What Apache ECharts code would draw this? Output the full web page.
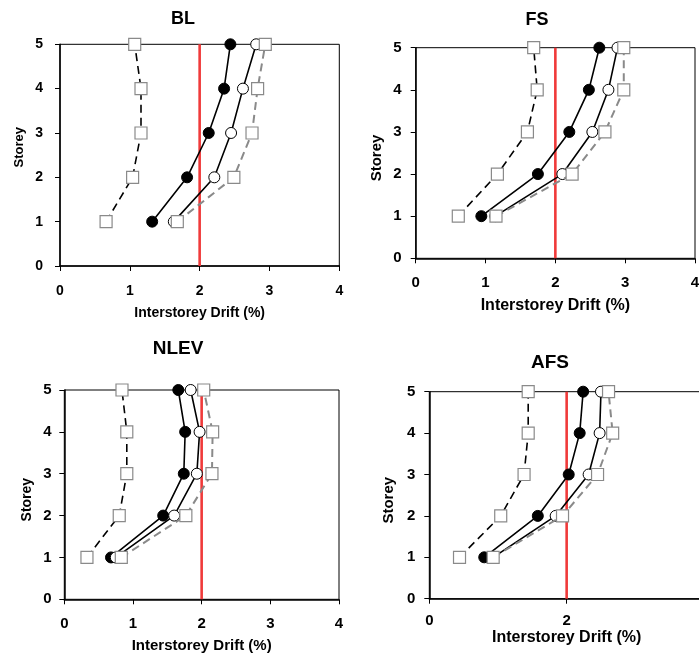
<!DOCTYPE html>
<html>
<head>
<meta charset="utf-8">
<script src="https://cdn.jsdelivr.net/npm/echarts@6/dist/echarts.min.js"></script>
<style>
html,body{margin:0;padding:0;background:#fff;}
#chart{width:699px;height:654px;}
</style>
</head>
<body>
<div id="chart"></div>
<script>
// ---- data ----
var panelTitles = ['BL', 'FS', 'NLEV', 'AFS'];
var storeys = [1, 2, 3, 4, 5];
var driftLimit = 2;
var xTickStep = [1, 1, 1, 2];
var xMax = 4;
var yMax = 5;
var xAxisName = 'Interstorey Drift (%)';
var yAxisName = 'Storey';

// dashed black line, grey squares
var blDashSq   = [0.66, 1.04, 1.16, 1.16, 1.07];
// solid black line, filled circles
var blFilled   = [1.32, 1.82, 2.13, 2.35, 2.44];
// solid black line, open circles
var blOpen     = [1.63, 2.21, 2.45, 2.62, 2.81];
// grey dashed line, grey squares
var blGreySq   = [1.68, 2.49, 2.75, 2.83, 2.94];

var fsDashSq   = [0.61, 1.17, 1.60, 1.74, 1.69];
var fsFilled   = [0.94, 1.75, 2.20, 2.48, 2.63];
var fsOpen     = [1.14, 2.10, 2.53, 2.76, 2.89];
var fsGreySq   = [1.15, 2.24, 2.71, 2.98, 2.98];

var nlevDashSq = [0.33, 0.80, 0.91, 0.91, 0.84];
var nlevFilled = [0.68, 1.44, 1.74, 1.76, 1.66];
var nlevOpen   = [0.75, 1.60, 1.93, 1.97, 1.84];
var nlevGreySq = [0.83, 1.77, 2.15, 2.16, 2.03];

var afsDashSq  = [0.44, 1.04, 1.38, 1.44, 1.44];
var afsFilled  = [0.80, 1.58, 2.03, 2.19, 2.24];
var afsOpen    = [0.93, 1.84, 2.32, 2.48, 2.50];
var afsGreySq  = [0.93, 1.94, 2.45, 2.67, 2.61];

var panelData = [
  [blDashSq, blFilled, blOpen, blGreySq],
  [fsDashSq, fsFilled, fsOpen, fsGreySq],
  [nlevDashSq, nlevFilled, nlevOpen, nlevGreySq],
  [afsDashSq, afsFilled, afsOpen, afsGreySq]
];

// ---- layout / style ----
var FONT = '"Liberation Sans", Arial, sans-serif';
var layout = [
  {grid:{left:60, top:44.3, width:279.3, height:221.7}, title:{x:183, y:10}, tfs:18,
   tick:14, xMargin:18, xName:14, xGap:40, yMargin:17, yName:13, yGap:34, yPad:[0,0,0,16]},
  {grid:{left:415.7, top:47.7, width:279.3, height:210.6}, title:{x:537, y:11}, tfs:18,
   tick:15, xMargin:17, xName:16, xGap:39, yMargin:14, yName:15, yGap:31, yPad:[0,10,0,0]},
  {grid:{left:64.3, top:390, width:274.7, height:209.3}, title:{x:178, y:339}, tfs:19,
   tick:15, xMargin:17, xName:15, xGap:39, yMargin:12.6, yName:14, yGap:30, yPad:[0,10,0,0]},
  {grid:{left:429.3, top:391.7, width:274.7, height:207}, title:{x:550, y:353}, tfs:19,
   tick:15, xMargin:15, xName:16, xGap:30, yMargin:14, yName:15, yGap:33, yPad:[0,10,0,0]}
];

var GREY = '#8a8a8a';
var seriesStyles = [
  {line:{color:'#000', width:1.6, type:[8,5]}, symbol:'rect', size:12, item:{color:'#fff', borderColor:GREY, borderWidth:1.2}},
  {line:{color:'#000', width:1.6, type:'solid'}, symbol:'circle', size:11, item:{color:'#000', borderColor:'#000', borderWidth:1}},
  {line:{color:'#000', width:1.6, type:'solid'}, symbol:'circle', size:11, item:{color:'#fff', borderColor:'#000', borderWidth:1}},
  {line:{color:GREY, width:2, type:[8,5]}, symbol:'rect', size:12, item:{color:'#fff', borderColor:GREY, borderWidth:1.2}}
];

var grids = [], xAxes = [], yAxes = [], titles = [], series = [];
layout.forEach(function (L, p) {
  grids.push(Object.assign({show:true, borderColor:'#000', borderWidth:1, backgroundColor:'transparent',
    containLabel:false, outerBoundsMode:'none'}, L.grid));
  titles.push({
    text: panelTitles[p], left: L.title.x, top: L.title.y, textAlign:'center', padding:0,
    textStyle:{fontFamily:FONT, fontWeight:'bold', fontSize:L.tfs, color:'#000'}
  });
  xAxes.push({
    gridIndex:p, type:'value', min:0, max:xMax, interval:xTickStep[p],
    name:xAxisName, nameLocation:'middle', nameGap:L.xGap,
    nameTextStyle:{fontFamily:FONT, fontWeight:'bold', fontSize:L.xName, color:'#000'},
    axisLine:{show:true, onZero:false, lineStyle:{color:'#000', width:1.5}},
    axisTick:{show:true, inside:false, length:5, lineStyle:{color:'#000', width:1}},
    axisLabel:{margin:L.xMargin, fontFamily:FONT, fontWeight:'bold', fontSize:L.tick, color:'#000',
      showMinLabel:true, showMaxLabel:true, hideOverlap:false},
    splitLine:{show:false}
  });
  yAxes.push({
    gridIndex:p, type:'value', min:0, max:yMax, interval:1,
    name:yAxisName, nameLocation:'middle', nameGap:L.yGap, nameRotate:90,
    nameTextStyle:{fontFamily:FONT, fontWeight:'bold', fontSize:L.yName, color:'#000', padding:L.yPad},
    axisLine:{show:true, onZero:false, lineStyle:{color:'#000', width:1.5}},
    axisTick:{show:true, inside:false, length:5, lineStyle:{color:'#000', width:1}},
    axisLabel:{margin:L.yMargin, fontFamily:FONT, fontWeight:'bold', fontSize:L.tick, color:'#000'},
    splitLine:{show:false}
  });
  // drift limit line
  series.push({
    type:'line', xAxisIndex:p, yAxisIndex:p, silent:true, symbol:'none', z:1,
    lineStyle:{color:'#f03a3a', width:2.6},
    data:[[driftLimit, 0], [driftLimit, yMax]]
  });
  panelData[p].forEach(function (arr, k) {
    var st = seriesStyles[k];
    series.push({
      type:'line', xAxisIndex:p, yAxisIndex:p, z:2 + k,
      symbol:st.symbol, symbolSize:st.size, showAllSymbol:true,
      lineStyle:st.line, itemStyle:st.item,
      data: storeys.map(function (s, i) { return [arr[i], s]; }),
      animation:false
    });
  });
});

var chart = echarts.init(document.getElementById('chart'), null, {renderer:'canvas'});
chart.setOption({
  animation:false,
  backgroundColor:'#fff',
  title:titles,
  grid:grids,
  xAxis:xAxes,
  yAxis:yAxes,
  series:series
});
</script>
</body>
</html>
